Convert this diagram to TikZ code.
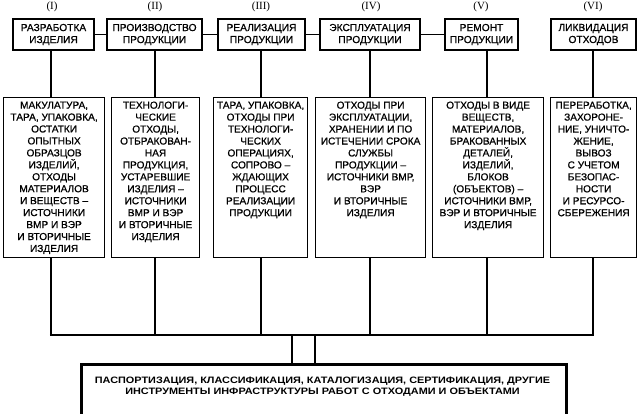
\documentclass[tikz,border=0pt]{standalone}
\usepackage{fontspec}
\setmainfont{Liberation Sans}
\newfontfamily\medfont[FakeBold=0.7]{Liberation Sans}
\newfontfamily\romfont{Liberation Serif}
\begin{document}
\begin{tikzpicture}[x=1pt,y=-1pt,
  topbox/.style={draw, line width=2.4pt, inner sep=0pt, align=center,
    font=\medfont\fontsize{10.2}{12}\selectfont},
  midbox/.style={draw, line width=1.2pt, inner sep=0pt, anchor=north west},
  roman/.style={font=\romfont\fontsize{11}{12}\selectfont},
  link/.style={line width=1.3pt},
  bus/.style={line width=2.2pt},
  twin/.style={line width=2.6pt},
  botbox/.style={draw, line width=2.8pt, inner sep=0pt, anchor=north west}]
\useasboundingbox (0,0) rectangle (638,413);
\clip (0,0) rectangle (638,413);
\newcommand{\midtext}[2]{\parbox[c][160pt][t]{#1pt}{\centering\medfont\fontsize{10.1}{11.95}\selectfont\vspace*{4pt}#2}}
% roman numerals
\node[roman] (r1) at (52,7) {(I)};
\node[roman] (r2) at (155,7) {(II)};
\node[roman] (r3) at (261,7) {(III)};
\node[roman] (r4) at (371,7) {(IV)};
\node[roman] (r5) at (481,7) {(V)};
\node[roman] (r6) at (593,7) {(VI)};
% top boxes
\node[topbox, minimum width=81pt, minimum height=31pt] (t1) at (53.5,34.5) {РАЗРАБОТКА\\ИЗДЕЛИЯ};
\node[topbox, minimum width=95pt, minimum height=31pt] (t2) at (154.5,34.5) {ПРОИЗВОДСТВО\\ПРОДУКЦИИ};
\node[topbox, minimum width=87pt, minimum height=31pt] (t3) at (261.5,34.5) {РЕАЛИЗАЦИЯ\\ПРОДУКЦИИ};
\node[topbox, minimum width=100pt, minimum height=31pt] (t4) at (370,34.5) {ЭКСПЛУАТАЦИЯ\\ПРОДУКЦИИ};
\node[topbox, minimum width=73pt, minimum height=31pt] (t5) at (481.5,34.5) {РЕМОНТ\\ПРОДУКЦИИ};
\node[topbox, minimum width=85pt, minimum height=31pt] (t6) at (593.5,34.5) {ЛИКВИДАЦИЯ\\ОТХОДОВ};
\draw[link] (t1.east) -- (t2.west);
\draw[link] (t2.east) -- (t3.west);
\draw[link] (t3.east) -- (t4.west);
\draw[link] (t4.east) -- (t5.west);
% middle boxes
\node[midbox] (m1) at (3,97) {\midtext{101}{МАКУЛАТУРА,\\ТАРА, УПАКОВКА,\\ОСТАТКИ\\ОПЫТНЫХ\\ОБРАЗЦОВ\\ИЗДЕЛИЙ,\\ОТХОДЫ\\МАТЕРИАЛОВ\\И ВЕЩЕСТВ –\\ИСТОЧНИКИ\\ВМР И ВЭР\\И ВТОРИЧНЫЕ\\ИЗДЕЛИЯ}};
\node[midbox] (m2) at (111,97) {\midtext{88}{ТЕХНОЛОГИ-\\ЧЕСКИЕ\\ОТХОДЫ,\\ОТБРАКОВАН-\\НАЯ\\ПРОДУКЦИЯ,\\УСТАРЕВШИЕ\\ИЗДЕЛИЯ –\\ИСТОЧНИКИ\\ВМР И ВЭР\\И ВТОРИЧНЫЕ\\ИЗДЕЛИЯ}};
\node[midbox] (m3) at (213,97) {\midtext{94}{ТАРА, УПАКОВКА,\\ОТХОДЫ ПРИ\\ТЕХНОЛОГИ-\\ЧЕСКИХ\\ОПЕРАЦИЯХ,\\СОПРОВО –\\ЖДАЮЩИХ\\ПРОЦЕСС\\РЕАЛИЗАЦИИ\\ПРОДУКЦИИ}};
\node[midbox] (m4) at (315,97) {\midtext{110}{ОТХОДЫ ПРИ\\ЭКСПЛУАТАЦИИ,\\ХРАНЕНИИ И ПО\\ИСТЕЧЕНИИ СРОКА\\СЛУЖБЫ\\ПРОДУКЦИИ –\\ИСТОЧНИКИ ВМР,\\ВЭР\\И ВТОРИЧНЫЕ\\ИЗДЕЛИЯ}};
\node[midbox] (m5) at (432,97) {\midtext{111}{ОТХОДЫ В ВИДЕ\\ВЕЩЕСТВ,\\МАТЕРИАЛОВ,\\БРАКОВАННЫХ\\ДЕТАЛЕЙ,\\ИЗДЕЛИЙ,\\БЛОКОВ\\(ОБЪЕКТОВ) –\\ИСТОЧНИКИ ВМР,\\ВЭР И ВТОРИЧНЫЕ\\ИЗДЕЛИЯ}};
\node[midbox] (m6) at (550,97) {\midtext{86}{ПЕРЕРАБОТКА,\\ЗАХОРОНЕ-\\НИЕ, УНИЧТО-\\ЖЕНИЕ,\\ВЫВОЗ\\С УЧЕТОМ\\БЕЗОПАС-\\НОСТИ\\И РЕСУРСО-\\СБЕРЕЖЕНИЯ}};
% vertical line positions
\coordinate (v1) at (51,0);
\coordinate (v2) at (155,0);
\coordinate (v3) at (261,0);
\coordinate (v4) at (370,0);
\coordinate (v5) at (487,0);
\coordinate (v6) at (593,0);
\coordinate (busy) at (0,335);
\foreach \i in {1,...,6}{
  \draw[link] (t\i.south -| v\i) -- (m\i.north -| v\i);
  \draw[link] (m\i.south -| v\i) -- (busy -| v\i);
}
\draw[bus] ([xshift=-1.1pt]busy -| v1) -- ([xshift=1.1pt]busy -| v6);
% bottom box
\node[botbox, minimum width=485pt, minimum height=80pt] (bot) at (80,363) {};
\node[font=\bfseries\fontsize{9.3}{11}\selectfont, align=center, inner sep=0pt] (bottext) at (322.5,386.5)
  {\scalebox{1.17}[1]{ПАСПОРТИЗАЦИЯ, КЛАССИФИКАЦИЯ, КАТАЛОГИЗАЦИЯ, СЕРТИФИКАЦИЯ, ДРУГИЕ}\\\scalebox{1.17}[1]{ИНСТРУМЕНТЫ ИНФРАСТРУКТУРЫ РАБОТ С ОТХОДАМИ И ОБЪЕКТАМИ}};
\coordinate (w1) at (292,0);
\coordinate (w2) at (315,0);
\draw[twin] (busy -| w1) -- (bot.north -| w1);
\draw[twin] (busy -| w2) -- (bot.north -| w2);
\end{tikzpicture}
\end{document}
